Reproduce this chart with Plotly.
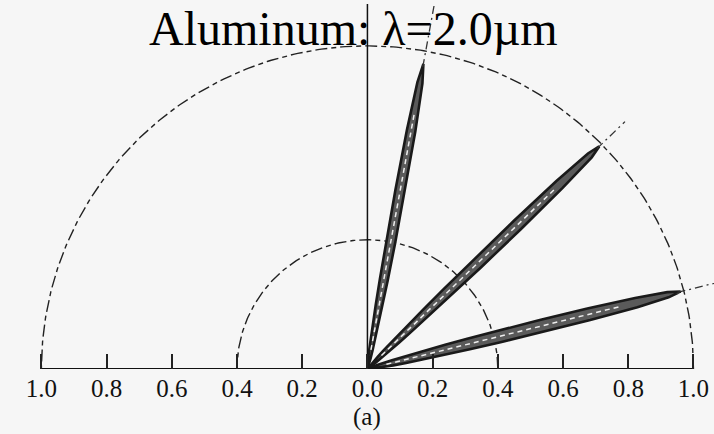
import numpy as np
import plotly.graph_objects as go

# ---------------- data ----------------
title_text = "Aluminum: λ=2.0µm"
panel_label = "(a)"

tick_vals = [-1.0, -0.8, -0.6, -0.4, -0.2, 0.0, 0.2, 0.4, 0.6, 0.8, 1.0]
tick_text = ["1.0", "0.8", "0.6", "0.4", "0.2", "0.0", "0.2", "0.4", "0.6", "0.8", "1.0"]

ring_radii = [0.4, 1.0]

# direction of each reflection lobe, degrees from the surface normal
lobe_angles_deg = [10.3, 45.9, 76.0]
# angular offsets from the lobe axis at which the lobe radius was read
lobe_offsets_deg = [-8, -6, -5, -4, -3.5, -3, -2.5, -2, -1.5, -1, -0.5, 0,
                    0.5, 1, 1.5, 2, 2.5, 3, 3.5, 4, 5, 6, 8]
lobe_A = [0.015, 0.035, 0.06, 0.10, 0.14, 0.20, 0.28, 0.40, 0.56, 0.75, 0.90, 0.96,
          0.90, 0.75, 0.56, 0.40, 0.28, 0.20, 0.14, 0.10, 0.06, 0.035, 0.015]
lobe_B = [0.02, 0.05, 0.08, 0.13, 0.18, 0.25, 0.34, 0.47, 0.64, 0.82, 0.95, 0.99,
          0.95, 0.82, 0.64, 0.47, 0.34, 0.25, 0.18, 0.13, 0.08, 0.05, 0.02]
lobe_C = [0.035, 0.08, 0.12, 0.19, 0.25, 0.32, 0.42, 0.55, 0.70, 0.85, 0.95, 0.99,
          0.95, 0.85, 0.70, 0.55, 0.42, 0.32, 0.25, 0.19, 0.12, 0.08, 0.035]
lobes = [lobe_A, lobe_B, lobe_C]
# length of the dash-dot direction line drawn along each lobe axis
ray_lengths = [1.15, 1.10, 1.18]

# ---------------- styling ----------------
bg = "#f6f6f6"
serif = "Liberation Serif"


def to_xy(r, phi_deg):
    phi = np.radians(phi_deg)
    return r * np.sin(phi), r * np.cos(phi)


fig = go.Figure()

# reference rings
for R in ring_radii:
    t = np.linspace(0, np.pi, 300)
    fig.add_trace(go.Scatter(
        x=R * np.cos(t), y=R * np.sin(t), mode="lines",
        line=dict(color="#222222", width=1.4, dash="12px,4px,5px,4px"),
        hoverinfo="skip", cliponaxis=False))

# surface normal
fig.add_trace(go.Scatter(x=[0, 0], y=[0, 1.13], mode="lines",
                         line=dict(color="#111111", width=1.5),
                         hoverinfo="skip", cliponaxis=False))

# lobes
for ang, vals, ray in zip(lobe_angles_deg, lobes, ray_lengths):
    phis = np.array(lobe_offsets_deg) + ang
    r = np.array(vals)
    x, y = to_xy(r, phis)
    x = np.concatenate([[0], x, [0]])
    y = np.concatenate([[0], y, [0]])
    fig.add_trace(go.Scatter(
        x=x, y=y, mode="lines", fill="toself", fillcolor="#5a5a5a",
        line=dict(color="#1a1a1a", width=2.6), hoverinfo="skip",
        cliponaxis=False))
    cx, cy = to_xy(np.array([0.06, 0.80]), np.array([ang, ang]))
    fig.add_trace(go.Scatter(
        x=cx, y=cy, mode="lines",
        line=dict(color="#eeeeee", width=1.5, dash="5px,4px"),
        hoverinfo="skip", cliponaxis=False))
    ex, ey = to_xy(np.array([max(vals) - 0.01, ray]), np.array([ang, ang]))
    fig.add_trace(go.Scatter(
        x=ex, y=ey, mode="lines",
        line=dict(color="#333333", width=1.3, dash="8px,4px,2px,4px"),
        hoverinfo="skip", cliponaxis=False))

# baseline (surface)
fig.add_trace(go.Scatter(x=[-1, 1], y=[0, 0], mode="lines",
                         line=dict(color="#111111", width=2.2),
                         hoverinfo="skip", cliponaxis=False))

fig.update_layout(
    width=714, height=434,
    margin=dict(l=0, r=0, t=0, b=65),
    paper_bgcolor=bg, plot_bgcolor=bg,
    showlegend=False,
    xaxis=dict(range=[-1.127, 1.063], showgrid=False, zeroline=False,
               showline=False, tickvals=tick_vals, ticktext=tick_text,
               ticks="inside", ticklen=15, tickwidth=1.5, tickcolor="#222",
               ticklabelstandoff=2,
               tickfont=dict(family=serif, size=25, color="#111")),
    yaxis=dict(range=[0, 1.142], showgrid=False, zeroline=False,
               showline=False, showticklabels=False, ticks=""),
    annotations=[
        dict(text=title_text, xref="paper", yref="paper", x=353.5 / 714, y=1,
             xanchor="center", yanchor="top", yshift=0, xshift=0,
             showarrow=False,
             font=dict(family=serif, size=48, color="#000")),
        dict(text=panel_label, xref="x", yref="paper", x=0, y=-48 / 369,
             xanchor="center", yanchor="middle", showarrow=False,
             font=dict(family=serif, size=25, color="#111")),
    ],
)

fig.write_html("out.html",
               config={"displayModeBar": False},
               post_script="document.body.style.margin='0';"
                           "document.body.style.background='#f6f6f6';")
